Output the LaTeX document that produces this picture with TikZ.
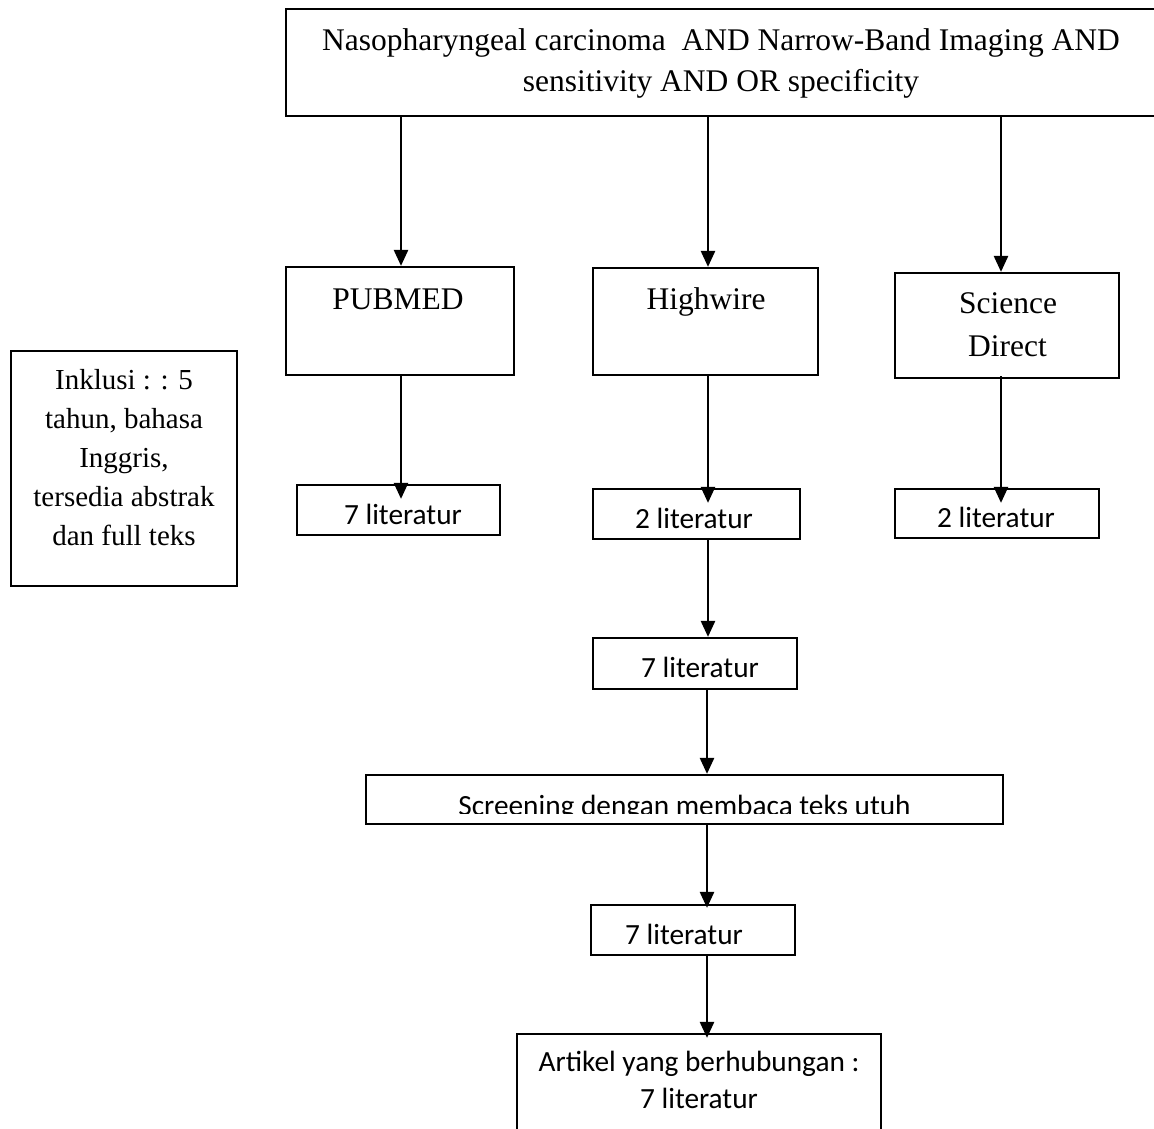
\documentclass[tikz,border=0pt]{standalone}
\usepackage{fontspec}
\setmainfont{Liberation Serif}
\newfontfamily\calfont{Carlito}
\usetikzlibrary{arrows.meta,calc}
\begin{document}
\begin{tikzpicture}[x=1pt,y=-1pt,
  box/.style={draw=black, line width=2.2pt, rectangle, inner sep=0pt},
  tnr/.style={font=\fontsize{31.5}{40}\selectfont, anchor=base, inner sep=0pt},
  tnrs/.style={font=\fontsize{29}{38}\selectfont, anchor=base, inner sep=0pt},
  cal/.style={font=\calfont\fontsize{29.3}{36}\selectfont, anchor=base, inner sep=0pt},
  conn/.style={line width=2.5pt, -{Triangle[length=16pt,width=14pt]}}]
\useasboundingbox (0,0) rectangle (1154,1128);
% column coordinates
\coordinate (c1) at (401,0);
\coordinate (c2) at (708,0);
\coordinate (c3) at (1001,0);
\coordinate (c4) at (707,0);
% boxes
\node[box, minimum width=880pt, minimum height=107pt] (q) at (726,62.5) {};
\node[box, minimum width=228pt, minimum height=108pt] (pub) at (400,321) {};
\node[box, minimum width=225pt, minimum height=107pt] (hw) at (705.5,321.5) {};
\node[box, minimum width=224pt, minimum height=105pt] (sd) at (1007,325.5) {};
\node[box, minimum width=226pt, minimum height=235pt] (inc) at (124,468.5) {};
\node[box, minimum width=203pt, minimum height=50pt] (lit1) at (398.5,510) {};
\node[box, minimum width=207pt, minimum height=50pt] (lit2) at (696.5,514) {};
\node[box, minimum width=204pt, minimum height=49pt] (lit3) at (997,513.5) {};
\node[box, minimum width=204pt, minimum height=51pt] (lit4) at (695,663.5) {};
\node[box, minimum width=637pt, minimum height=49pt] (scr) at (684.5,799.5) {};
\node[box, minimum width=204pt, minimum height=50pt] (lit5) at (693,930) {};
\node[box, minimum width=364pt, minimum height=106pt] (art) at (699,1087) {};
% texts
\node[tnr] (qt1) at (721,50) {Nasopharyngeal carcinoma\ \ AND Narrow-Band Imaging AND};
\node[tnr] (qt2) at (721,91) {sensitivity AND OR specificity};
\node[tnr] (pubt) at (398,309) {PUBMED};
\node[tnr] (hwt) at (706,309) {Highwire};
\node[tnr] (sdt1) at (1008,313) {Science};
\node[tnr] (sdt2) at (1007.5,356) {Direct};
\node[tnrs] (inct1) at (124,389) {Inklusi : : 5};
\node[tnrs] (inct2) at (124,428) {tahun, bahasa};
\node[tnrs] (inct3) at (124,467) {Inggris,};
\node[tnrs] (inct4) at (124,506) {tersedia abstrak};
\node[tnrs] (inct5) at (124,545) {dan full teks};
\node[cal] (lit1t) at (403,524) {7 literatur};
\node[cal] (lit2t) at (694,528) {2 literatur};
\node[cal] (lit3t) at (996,527) {2 literatur};
\node[cal] (lit4t) at (700,677) {7 literatur};
\begin{scope}
\clip (366,775) rectangle (1003,813);
\node[cal] (scrt) at (684.5,815) {Screening dengan membaca teks utuh};
\end{scope}
\node[cal] (lit5t) at (684,944) {7 literatur};
\node[cal] (artt1) at (699,1071) {Artikel yang berhubungan :};
\node[cal] (artt2) at (699,1108) {7 literatur};
% connectors
\draw[conn] (q.south -| c1) -- (pub.north -| c1);
\draw[conn] (q.south -| c2) -- (hw.north -| c2);
\draw[conn] (q.south -| c3) -- (sd.north -| c3);
\draw[conn] (pub.south -| c1) -- ($(lit1.north -| c1)+(0,15)$);
\draw[conn] (hw.south -| c2) -- ($(lit2.north -| c2)+(0,15)$);
\draw[conn] ($(sd.south -| c3)+(0,-3)$) -- ($(lit3.north -| c3)+(0,15)$);
\draw[conn] (lit2.south -| c2) -- (lit4.north -| c2);
\draw[conn] (lit4.south -| c4) -- (scr.north -| c4);
\draw[conn] (scr.south -| c4) -- ($(lit5.north -| c4)+(0,4)$);
\draw[conn] (lit5.south -| c4) -- ($(art.north -| c4)+(0,5)$);
\end{tikzpicture}
\end{document}
